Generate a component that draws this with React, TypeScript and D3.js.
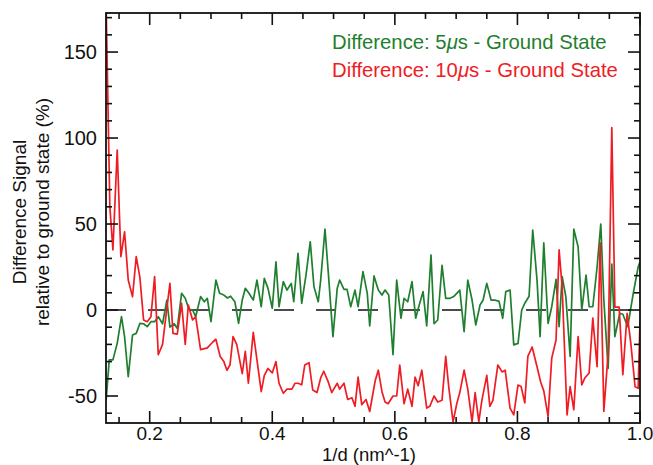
import { useEffect, useRef } from 'react';
import * as d3 from 'd3';

// x positions (1/d, nm^-1) and values (%)
const redX = [
  0.129, 0.135, 0.140, 0.147, 0.153, 0.159, 0.165, 0.172, 0.178, 0.184, 0.190, 0.196, 0.202, 0.208, 0.214,
  0.221, 0.227, 0.233, 0.238, 0.245, 0.252, 0.258, 0.263, 0.270, 0.275, 0.283, 0.294, 0.303, 0.308, 0.315,
  0.321, 0.326, 0.331, 0.336, 0.342, 0.351, 0.356, 0.361, 0.369, 0.375, 0.382, 0.387, 0.393, 0.400, 0.406,
  0.411, 0.418, 0.424, 0.432, 0.437, 0.442, 0.448, 0.453, 0.460, 0.466, 0.473, 0.479, 0.484, 0.491, 0.497,
  0.506, 0.510, 0.517, 0.523, 0.530, 0.535, 0.540, 0.546, 0.553, 0.559, 0.568, 0.573, 0.579, 0.584, 0.589,
  0.597, 0.603, 0.608, 0.615, 0.621, 0.628, 0.633, 0.638, 0.644, 0.652, 0.657, 0.664, 0.670, 0.677, 0.683,
  0.688, 0.695, 0.701, 0.706, 0.713, 0.719, 0.726, 0.731, 0.737, 0.742, 0.750, 0.755, 0.760, 0.768, 0.775,
  0.780, 0.788, 0.794, 0.801, 0.806, 0.812, 0.817, 0.824, 0.832, 0.838, 0.843, 0.850, 0.856, 0.863, 0.868,
  0.873, 0.881, 0.886, 0.892, 0.899, 0.905, 0.910, 0.917, 0.923, 0.930, 0.935, 0.941, 0.948, 0.954, 0.959,
  0.966, 0.972, 0.979, 0.985, 0.992, 0.997, 1.000,
];
const redY = [
  175, 60, 35, 93, 31, 45.5, 17.4, 7.7, 31, 19, -5.8, -6.8, -3.9, 19.4, -26,
  -20, -2, 15.5, -13.6, -14, 3.9, -20, 2.9, -5.8, -3.9, -23, -22, -18.6, -17, -27,
  -30, -35, -32, -15.5, -20, -37, -24, -42.6, -13, -29, -47.5, -38, -34, -36.6, -30,
  -42.6, -48.4, -46, -46, -42.6, -42.6, -43.5, -32, -30.6, -46.5, -48, -39.5, -35.6, -41.5, -48,
  -42.6, -46, -42.6, -52, -51, -56, -39, -55, -52, -59, -41, -35, -47.5, -53.5, -54.5,
  -50, -50, -32, -54.5, -46, -56, -39, -44, -35, -57, -56, -50, -53.5, -52.5, -27,
  -45, -65, -54.5, -48, -35, -46, -65, -48, -65, -52.5, -38, -56, -52.5, -32, -36,
  -35, -57, -61, -43.6, -44.5, -54, -27, -21.5, -33, -42, -47, -62, -28, -17.4, 35,
  13.4, -61, -44.6, -58, -15.5, -43.6, -39.5, -36.6, -4.7, -33, 39, -59, -25, 106, 1.7,
  1.7, -37.6, -1.9, -19.4, -44.6, -45.5, -6,
];

const greenX = [
  0.129, 0.134, 0.140, 0.147, 0.154, 0.159, 0.165, 0.172, 0.178, 0.184, 0.190, 0.196, 0.202, 0.208, 0.214,
  0.221, 0.228, 0.233, 0.240, 0.245, 0.252, 0.258, 0.264, 0.270, 0.275, 0.283, 0.289, 0.294, 0.300, 0.308,
  0.314, 0.321, 0.327, 0.332, 0.339, 0.345, 0.351, 0.356, 0.362, 0.369, 0.375, 0.382, 0.387, 0.393, 0.400,
  0.406, 0.411, 0.418, 0.424, 0.431, 0.435, 0.442, 0.448, 0.455, 0.462, 0.468, 0.475, 0.479, 0.486, 0.492,
  0.499, 0.506, 0.510, 0.517, 0.522, 0.528, 0.535, 0.540, 0.548, 0.555, 0.559, 0.566, 0.573, 0.579, 0.584,
  0.590, 0.597, 0.603, 0.610, 0.615, 0.621, 0.628, 0.634, 0.639, 0.646, 0.652, 0.659, 0.664, 0.670, 0.677,
  0.683, 0.690, 0.696, 0.706, 0.713, 0.719, 0.726, 0.732, 0.739, 0.744, 0.750, 0.757, 0.763, 0.770, 0.776,
  0.781, 0.788, 0.794, 0.801, 0.807, 0.812, 0.819, 0.825, 0.832, 0.837, 0.843, 0.850, 0.856, 0.863, 0.868,
  0.873, 0.879, 0.886, 0.892, 0.899, 0.905, 0.912, 0.917, 0.923, 0.930, 0.936, 0.941, 0.948, 0.954, 0.959,
  0.967, 0.972, 0.980, 0.989, 0.997, 1.000,
];
const greenY = [
  -52, -29, -29, -19.4, -3.9, -15.5, -38.8, -14.5, -13.6, -7.8, -8, -9.7, -6.8, -6.8, -3.9,
  -8, 5.8, -10, -8, -10.7, 9.7, 6.8, 0.4, 0, -3.9, 7.8, 4.8, 6.8, -6.8, 17.4,
  9.7, 8.7, 7, 8, 4.8, -7.8, 5.8, 12.6, 9.7, 5.8, 17.4, 1.9, 18.4, 12.6, 1,
  28, 1.9, 16.5, 11.6, 15.5, 4.8, 33, 3.9, 20.3, 39.7, 13.6, 4.8, 17.4, 47, 19,
  -15.5, 12.6, 17.4, 12, 12, 1.9, 11.6, 2, 22.3, 9.7, -9.3, 19.8, 11.6, 8.7, 11.6,
  8.7, -26, 17.4, -4.8, 6.8, 4.8, 16.5, -4.8, 1.9, 10.7, -9.3, 32, -8, -5.8, 26,
  6.8, 6.8, 7.8, 11.6, -12.6, 17.4, 5.8, -8.7, 2.9, 5.8, 15.5, 5.8, 5.8, 5, -4.8,
  10.7, 11.6, -20.3, -19.4, 0, 3.9, 8, 46.5, 17.4, -15.5, 39, -7.8, 1.9, 17.8, -9.7,
  19.4, 7.8, -27, 47, 36.8, 0, 20.3, 1.9, 1.9, 25, 50, 5.8, -34, 26.7, -15.5,
  -1.9, -2.5, -9.7, 9.7, 25, 28,
];

const xTicks = [0.2, 0.4, 0.6, 0.8, 1.0];
const xMinorTicks = [0.15, 0.25, 0.3, 0.35, 0.45, 0.5, 0.55, 0.65, 0.7, 0.75, 0.85, 0.9, 0.95];
const yTicks = [-50, 0, 50, 100, 150];
const yMinorTicks = [-60, -40, -30, -20, -10, 10, 20, 30, 40, 60, 70, 80, 90, 110, 120, 130, 140, 160, 170];

const GREEN = '#1f7f2f';
const RED = '#f01c24';

const App = () => {
  const svgRef = useRef<SVGSVGElement>(null);

  useEffect(() => {
    if (!svgRef.current) return;
    const svg = d3.select(svgRef.current);
    svg.selectAll('*').remove();

    const left = 106, right = 640, top = 13, bottom = 423;
    const font = '"Liberation Sans", Arial, Helvetica, sans-serif';

    const x = d3.scaleLinear().domain([0.1287, 1.0]).range([left, right]);
    const y = d3.scaleLinear().domain([-65.7, 172.7]).range([bottom, top]);

    svg.append('defs').append('clipPath').attr('id', 'plotclip')
      .append('rect').attr('x', left).attr('y', top)
      .attr('width', right - left).attr('height', bottom - top);

    // dashed zero line
    svg.append('line')
      .attr('x1', left).attr('x2', right)
      .attr('y1', y(0)).attr('y2', y(0))
      .attr('stroke', '#111').attr('stroke-width', 1.6)
      .attr('stroke-dasharray', '20 22');

    const line = d3.line<[number, number]>()
      .x(d => x(d[0]))
      .y(d => y(d[1]));

    const g = svg.append('g').attr('clip-path', 'url(#plotclip)');
    g.append('path')
      .attr('d', line(greenX.map((v, i) => [v, greenY[i]] as [number, number])))
      .attr('fill', 'none').attr('stroke', GREEN).attr('stroke-width', 1.7)
      .attr('stroke-linejoin', 'round');
    g.append('path')
      .attr('d', line(redX.map((v, i) => [v, redY[i]] as [number, number])))
      .attr('fill', 'none').attr('stroke', RED).attr('stroke-width', 1.7)
      .attr('stroke-linejoin', 'round');

    // frame
    svg.append('rect')
      .attr('x', left).attr('y', top)
      .attr('width', right - left).attr('height', bottom - top)
      .attr('fill', 'none').attr('stroke', '#111').attr('stroke-width', 1.8);

    // ticks, pointing inward on all four sides
    const tickG = svg.append('g').attr('stroke', '#111').attr('stroke-width', 1.6);
    const xTickAll = [...xTicks.map(t => ({ t, len: 12 })), ...xMinorTicks.map(t => ({ t, len: 6 }))];
    xTickAll.forEach(({ t, len }) => {
      tickG.append('line').attr('x1', x(t)).attr('x2', x(t)).attr('y1', bottom).attr('y2', bottom - len);
      tickG.append('line').attr('x1', x(t)).attr('x2', x(t)).attr('y1', top).attr('y2', top + len);
    });
    const yTickAll = [...yTicks.map(t => ({ t, len: 12 })), ...yMinorTicks.map(t => ({ t, len: 6 }))];
    yTickAll.forEach(({ t, len }) => {
      tickG.append('line').attr('y1', y(t)).attr('y2', y(t)).attr('x1', left).attr('x2', left + len);
      tickG.append('line').attr('y1', y(t)).attr('y2', y(t)).attr('x1', right).attr('x2', right - len);
    });

    // tick labels
    svg.append('g').selectAll('text').data(xTicks).join('text')
      .attr('x', d => x(d)).attr('y', 440)
      .attr('text-anchor', 'middle')
      .attr('font-family', font).attr('font-size', 19).attr('fill', '#111')
      .text(d => d.toFixed(1));
    svg.append('g').selectAll('text').data(yTicks).join('text')
      .attr('x', 97).attr('y', d => y(d))
      .attr('dy', '0.35em')
      .attr('text-anchor', 'end')
      .attr('font-family', font).attr('font-size', 20).attr('fill', '#111')
      .text(d => String(d));

    // axis titles
    svg.append('text')
      .attr('x', 369).attr('y', 461)
      .attr('text-anchor', 'middle')
      .attr('font-family', font).attr('font-size', 18.5).attr('fill', '#111')
      .text('1/d (nm^-1)');
    const yt = svg.append('text')
      .attr('transform', 'translate(26,212) rotate(-90)')
      .attr('text-anchor', 'middle')
      .attr('font-family', font).attr('font-size', 19).attr('fill', '#111');
    yt.append('tspan').attr('x', 0).attr('y', 0).text('Difference Signal');
    yt.append('tspan').attr('x', 0).attr('y', 23).text('relative to ground state (%)');

    // legend
    const legend = [
      { pre: 'Difference: 5', post: 's - Ground State', color: GREEN, yy: 49 },
      { pre: 'Difference: 10', post: 's - Ground State', color: RED, yy: 77 },
    ];
    legend.forEach(l => {
      const t = svg.append('text')
        .attr('x', 332).attr('y', l.yy)
        .attr('font-family', font).attr('font-size', 20.3).attr('fill', l.color);
      t.append('tspan').text(l.pre);
      t.append('tspan').attr('font-style', 'italic').text('\u03bc');
      t.append('tspan').text(l.post);
    });
  }, []);

  return (
    <div style={{ position: 'fixed', left: 0, top: 0, background: '#fff' }}>
      <svg ref={svgRef} width={653} height={465} />
    </div>
  );
};

export default App;
